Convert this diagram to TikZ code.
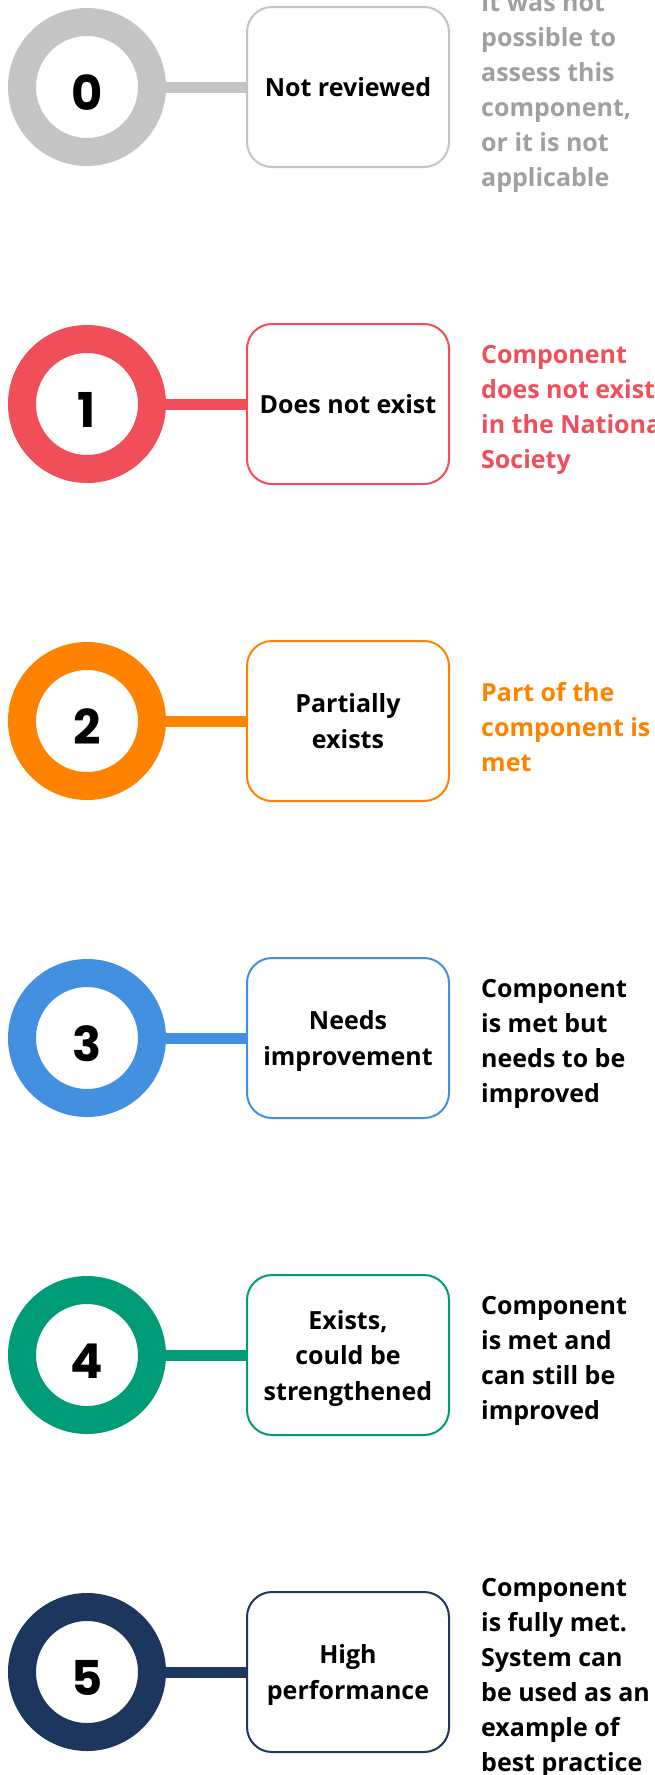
\documentclass[tikz,border=0pt]{standalone}
\usepackage{fontspec}
\setmainfont{Open Sans}
\newfontfamily\numfont{Poppins}
\usetikzlibrary{positioning}

\definecolor{nrgray}{HTML}{C4C4C4}
\definecolor{nrtext}{HTML}{A0A0A0}
\definecolor{nored}{HTML}{F04E59}
\definecolor{partorange}{HTML}{FF8300}
\definecolor{needblue}{HTML}{438FE0}
\definecolor{strgreen}{HTML}{009B77}
\definecolor{highnavy}{HTML}{1D365E}

\tikzset{
	ring/.style={circle, draw=#1, line width=28pt, minimum size=130pt, inner sep=0pt,
		text height=46pt, text depth=0pt,
		font=\numfont\bfseries\fontsize{48}{48}\selectfont},
	level/.style={rectangle, rounded corners=25pt, draw=#1, line width=2pt, fill=white,
		minimum width=202pt, minimum height=160pt, align=center,
		font=\bfseries\fontsize{25}{35.5}\selectfont},
	multi/.style={text depth=-6pt},
	link/.style={draw=#1, line width=11pt},
	note/.style={anchor=west, align=left, text=#1, inner sep=0pt, yshift=-6pt,
		font=\bfseries\fontsize{25}{35}\selectfont}
}

\begin{document}
\begin{tikzpicture}[x=1pt, y=-1pt]
		\clip (0,0) rectangle (654,1775);
		\fill[white] (0,0) rectangle (654,1775);
		% 0
		\node[ring=nrgray] (r0) at (87,87) {0};
		\node[level=nrgray] (b0) at (348,87) {Not reviewed};
		\draw[link=nrgray] (r0) -- (b0);
		\node[note=nrtext] (d0) at (481,87) {It was not\\possible to\\assess this\\component,\\or it is not\\applicable};
		% 1
		\node[ring=nored] (r1) at (87,404) {1};
		\node[level=nored] (b1) at (348,404) {Does not exist};
		\draw[link=nored] (r1) -- (b1);
		\node[note=nored] (d1) at (481,404) {Component\\does not exist\\in the National\\Society};
		% 2
		\node[ring=partorange] (r2) at (87,721) {2};
		\node[level=partorange, multi] (b2) at (348,721) {Partially\\exists};
		\draw[link=partorange] (r2) -- (b2);
		\node[note=partorange] (d2) at (481,721) {Part of the\\component is\\met};
		% 3
		\node[ring=needblue] (r3) at (87,1038) {3};
		\node[level=needblue, multi] (b3) at (348,1038) {Needs\\improvement};
		\draw[link=needblue] (r3) -- (b3);
		\node[note=black] (d3) at (481,1038) {Component\\is met but\\needs to be\\improved};
		% 4
		\node[ring=strgreen] (r4) at (87,1355) {4};
		\node[level=strgreen, multi] (b4) at (348,1355) {Exists,\\could be\\strengthened};
		\draw[link=strgreen] (r4) -- (b4);
		\node[note=black] (d4) at (481,1355) {Component\\is met and\\can still be\\improved};
		% 5
		\node[ring=highnavy] (r5) at (87,1672) {5};
		\node[level=highnavy, multi] (b5) at (348,1672) {High\\performance};
		\draw[link=highnavy] (r5) -- (b5);
		\node[note=black] (d5) at (481,1672) {Component\\is fully met.\\System can\\be used as an\\example of\\best practice};
	\end{tikzpicture}
\end{document}
